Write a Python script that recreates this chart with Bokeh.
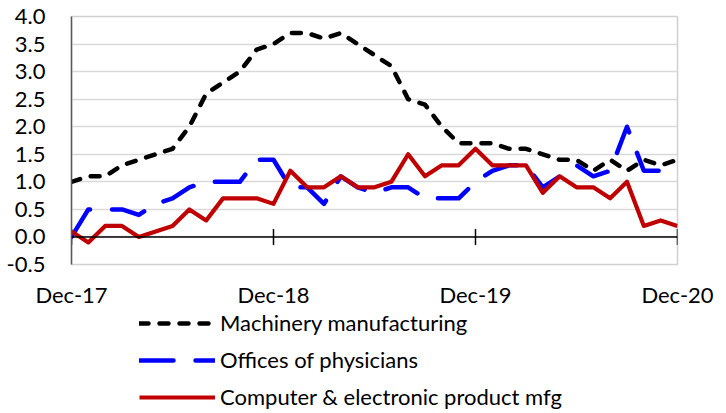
from bokeh.plotting import figure
from bokeh.layouts import column
from bokeh.models import (Range1d, FixedTicker, NumeralTickFormatter, Span,
                          Legend, LegendItem, ColumnDataSource)
from bokeh.embed import file_html
from bokeh.resources import INLINE
import math
import pandas as pd

# Monthly observations, Dec-2017 .. Dec-2020
months = pd.date_range("2017-12-01", "2020-12-01", freq="MS").strftime("%b-%y").tolist()

machinery = [1.0, 1.1, 1.1, 1.3, 1.4, 1.5, 1.6, 2.0, 2.6, 2.8, 3.0, 3.4,
             3.5, 3.7, 3.7, 3.6, 3.7, 3.5, 3.3, 3.1, 2.5, 2.4, 2.0, 1.7,
             1.7, 1.7, 1.6, 1.6, 1.5, 1.4, 1.4, 1.2, 1.4, 1.2, 1.4, 1.3, 1.4]
physicians = [0.0, 0.5, 0.5, 0.5, 0.4, 0.6, 0.7, 0.9, 1.0, 1.0, 1.0, 1.4,
              1.4, 0.9, 0.9, 0.6, 1.1, 0.9, 0.8, 0.9, 0.9, 0.7, 0.7, 0.7,
              1.0, 1.2, 1.3, 1.3, 0.9, 1.1, 1.3, 1.1, 1.2, 2.0, 1.2, 1.2, 1.1]
computer = [0.1, -0.1, 0.2, 0.2, 0.0, 0.1, 0.2, 0.5, 0.3, 0.7, 0.7, 0.7,
            0.6, 1.2, 0.9, 0.9, 1.1, 0.9, 0.9, 1.0, 1.5, 1.1, 1.3, 1.3,
            1.6, 1.3, 1.3, 1.3, 0.8, 1.1, 0.9, 0.9, 0.7, 1.0, 0.2, 0.3, 0.2]

series_names = ["Machinery manufacturing", "Offices of physicians",
                "Computer & electronic product mfg"]
series_cols = ["machinery", "physicians", "computer"]
year_ticks = [0, 12, 24, 36]
year_labels = ["Dec-17", "Dec-18", "Dec-19", "Dec-20"]
y_ticks = [-0.5, 0.0, 0.5, 1.0, 1.5, 2.0, 2.5, 3.0, 3.5, 4.0]

FONT = "Lato"
FONT_SIZE = "22px"

# line styles shared by the chart and the legend
styles = [
    dict(line_color="black", line_width=4.5, line_dash="9 11",
         line_cap="round", line_join="round"),
    dict(line_color="#0000ff", line_width=4.5, line_dash="34 22",
         line_cap="round", line_join="round"),
    dict(line_color="#c00000", line_width=4.2, line_join="round"),
]

src = ColumnDataSource(dict(
    x=list(range(len(months))), month=months,
    machinery=machinery, physicians=physicians, computer=computer))

p = figure(width=726, height=310, output_backend="svg", toolbar_location=None,
           x_range=Range1d(0, len(months) - 1), y_range=Range1d(-0.5, 4.0),
           min_border_left=71, min_border_right=49, min_border_top=16,
           min_border_bottom=44)
p.background_fill_color = "white"
p.border_fill_color = "white"
p.outline_line_color = "#d0d0d0"
p.outline_line_width = 1.5

# y axis
p.yaxis.ticker = FixedTicker(ticks=y_ticks)
p.yaxis.formatter = NumeralTickFormatter(format="0.0")
p.yaxis.axis_line_color = "#5a5a5a"
p.yaxis.axis_line_width = 1.5
p.yaxis.major_tick_line_color = None
p.yaxis.minor_tick_line_color = None
p.yaxis.major_label_standoff = 20
p.yaxis.major_label_text_font = FONT
p.yaxis.major_label_text_font_size = FONT_SIZE
p.yaxis.major_label_text_color = "black"

# x axis: labels only, along the bottom
p.xaxis.ticker = FixedTicker(ticks=year_ticks)
p.xaxis.major_label_overrides = {t: l for t, l in zip(year_ticks, year_labels)}
p.xaxis.axis_line_color = None
p.xaxis.major_tick_line_color = None
p.xaxis.minor_tick_line_color = None
p.xaxis.major_label_standoff = 10
p.xaxis.major_label_text_font = FONT
p.xaxis.major_label_text_font_size = FONT_SIZE
p.xaxis.major_label_text_color = "black"

p.xgrid.grid_line_color = None
p.ygrid.ticker = FixedTicker(ticks=y_ticks)
p.ygrid.grid_line_color = "#d9d9d9"
p.ygrid.grid_line_width = 1.5

# zero line with yearly cross ticks
p.add_layout(Span(location=0, dimension="width", line_color="black", line_width=1.5))
p.scatter(year_ticks, [0] * len(year_ticks), marker="dash", size=16,
          angle=math.pi / 2, line_color="black", line_width=1.5)

for col, st in zip(series_cols, styles):
    p.line("x", col, source=src, **st)

# legend strip underneath the chart; its lines sit outside its empty view range
leg = figure(width=726, height=103, output_backend="svg", toolbar_location=None,
             x_axis_location=None, y_axis_location=None,
             x_range=Range1d(0, len(months) - 1), y_range=Range1d(100, 101),
             min_border_left=0, min_border_right=0, min_border_top=0,
             min_border_bottom=0)
leg.grid.visible = False
leg.outline_line_color = None
leg.background_fill_color = "white"
leg.border_fill_color = "white"
swatches = [leg.line("x", col, source=src, **st) for col, st in zip(series_cols, styles)]

legend = Legend(items=[LegendItem(label=n, renderers=[r])
                       for n, r in zip(series_names, swatches)],
                location=(68, 3), orientation="vertical",
                glyph_width=76, glyph_height=22, label_height=22,
                label_standoff=5, spacing=10, padding=0, margin=0,
                border_line_color=None, background_fill_alpha=0,
                label_text_font=FONT, label_text_font_size=FONT_SIZE,
                label_text_color="black")
leg.add_layout(legend, "center")

open("out.html", "w").write(file_html(column(p, leg, spacing=0), INLINE))
